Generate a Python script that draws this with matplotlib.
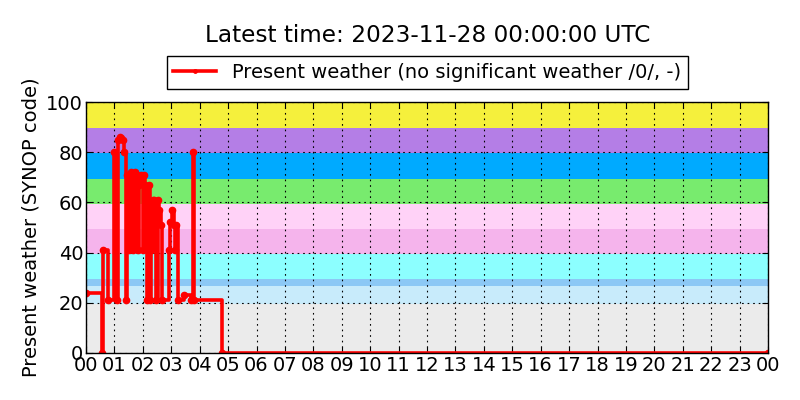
import matplotlib
matplotlib.use("Agg")
import matplotlib.pyplot as plt

# Data (hours since 2023-11-27 00 UTC, SYNOP present-weather code)
hours = [0.00, 0.55, 0.60, 0.77, 1.00, 1.09, 1.14, 1.20, 1.30, 1.35, 1.41, 1.46,
         1.51, 1.57, 1.62, 1.67, 1.72, 1.78, 1.83, 1.88, 1.94, 1.99, 2.04, 2.09,
         2.15, 2.20, 2.25, 2.30, 2.36, 2.41, 2.46, 2.52, 2.57, 2.64, 2.69, 2.92,
         2.97, 3.03, 3.08, 3.13, 3.18, 3.22, 3.45, 3.69, 3.75, 3.80, 4.77, 24.0]
codes = [24, 0, 41, 21, 80, 21, 85, 86, 85, 80, 21, 71,
         41, 72, 71, 41, 72, 71, 41, 67, 71, 41, 71, 67,
         21, 67, 21, 41, 61, 61, 21, 61, 57, 51, 21, 41,
         52, 57, 51, 41, 51, 21, 23, 21, 80, 21, 0, 0]

band_edges = [0, 19.5, 26.5, 29.5, 39.5, 49.5, 59.5, 69.5, 79.5, 89.5, 100]
band_colors = ["#ebebeb", "#c8ebfb", "#8cc8f5", "#8cffff", "#f5b4ec",
               "#ffd2f7", "#78eb6e", "#00aaff", "#b47ee6", "#f5f03c"]

xtick_labels = ["%02d" % (h % 24) for h in range(25)]

fig = plt.figure(figsize=(8, 4), dpi=100)
ax = fig.add_axes([0.1075, 0.1175, 0.8525, 0.6275])

for lo, hi, c in zip(band_edges[:-1], band_edges[1:], band_colors):
    ax.axhspan(lo, hi, color=c, lw=0, zorder=0)

line, = ax.plot(hours, codes, drawstyle="steps-post", color="red", lw=2.6,
                marker=".", ms=9, zorder=3,
                label="Present weather (no significant weather /0/, -)")

ax.set_xlim(0, 24)
ax.set_ylim(0, 100)
ax.set_xticks(range(25))
ax.set_xticklabels(xtick_labels, fontsize=14)
ax.set_yticks([0, 20, 40, 60, 80, 100])
ax.tick_params(axis="y", labelsize=14)
ax.tick_params(direction="in", top=True, right=True, length=4, pad=2)
ax.grid(True, color="black", linestyle=(0, (1.5, 3.5)), lw=0.8, zorder=1)
ax.set_axisbelow(False)
for s in ax.spines.values():
    s.set_linewidth(1.0)
    s.set_zorder(4)
ax.set_ylabel("Present weather (SYNOP code)", fontsize=14)

fig.text(0.534, 0.9125, "Latest time: 2023-11-28 00:00:00 UTC", fontsize=16.7,
         ha="center", va="center")
fig.legend(handles=[line], loc="center", bbox_to_anchor=(0.534, 0.819),
           fontsize=14, fancybox=False, edgecolor="black", framealpha=1,
           handlelength=2.2, borderpad=0.35, markerscale=0.55)

fig.savefig("out.png", dpi=100)
